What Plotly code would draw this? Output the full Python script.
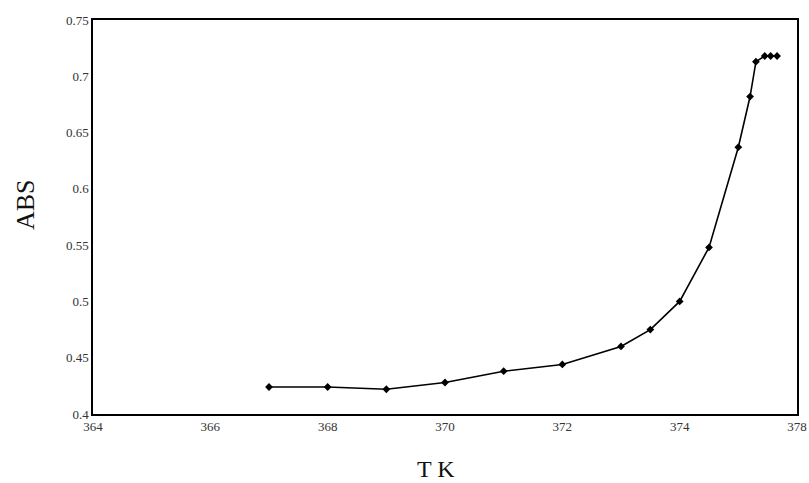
import plotly.graph_objects as go

temp_k = [367, 368, 369, 370, 371, 372, 373, 373.5, 374, 374.5, 375, 375.2, 375.3, 375.45, 375.55, 375.66]
abs_vals = [0.424, 0.424, 0.422, 0.428, 0.438, 0.444, 0.460, 0.475, 0.500, 0.548, 0.637, 0.682, 0.713, 0.718, 0.718, 0.718]

x_tickvals = [364, 366, 368, 370, 372, 374, 376]
x_ticktext = ["364", "366", "368", "370", "372", "374", "378"]
y_tickvals = [0.4, 0.45, 0.5, 0.55, 0.6, 0.65, 0.7, 0.75]
y_ticktext = ["0.4", "0.45", "0.5", "0.55", "0.6", "0.65", "0.7", "0.75"]

fig = go.Figure()
fig.add_trace(go.Scatter(
    x=temp_k, y=abs_vals, mode="lines+markers",
    line=dict(color="black", width=1.6),
    marker=dict(color="black", size=6, symbol="diamond"),
    showlegend=False,
))

font_serif = "Liberation Serif, Times New Roman, serif"
W, H = 809, 483
L, R, T, B = 93, 12, 20, 69
pw = W - L - R
ph = H - T - B
fig.update_layout(
    width=W, height=H,
    margin=dict(l=L, r=R, t=T, b=B),
    paper_bgcolor="white", plot_bgcolor="white",
    font=dict(family=font_serif, color="#222"),
    xaxis=dict(
        range=[364, 376], tickvals=x_tickvals, ticktext=x_ticktext,
        showgrid=False, zeroline=False, showline=True, mirror=True,
        linecolor="black", linewidth=1.5, ticks="", automargin=False,
        tickfont=dict(size=13, family=font_serif, color="#333"),
    ),
    yaxis=dict(
        range=[0.4, 0.75], tickvals=y_tickvals, ticktext=y_ticktext,
        showgrid=False, zeroline=False, showline=True, mirror=True,
        linecolor="black", linewidth=1.5, ticks="", automargin=False,
        tickfont=dict(size=13, family=font_serif, color="#333"),
    ),
    annotations=[
        dict(text="T K", xref="paper", yref="paper", x=(436 - L) / pw, y=0,
             yshift=-55, showarrow=False, xanchor="center", yanchor="middle",
             font=dict(size=24, family=font_serif, color="#111")),
        dict(text="ABS", xref="paper", yref="paper", x=0, xshift=-68, y=(414 - 205) / ph,
             showarrow=False, textangle=-90, xanchor="center", yanchor="middle",
             font=dict(size=26, family=font_serif, color="#111")),
    ],
)

fig.write_html(
    "out.html",
    config={"displayModeBar": False},
    post_script="document.body.style.margin='0';document.body.style.overflow='hidden';",
)
